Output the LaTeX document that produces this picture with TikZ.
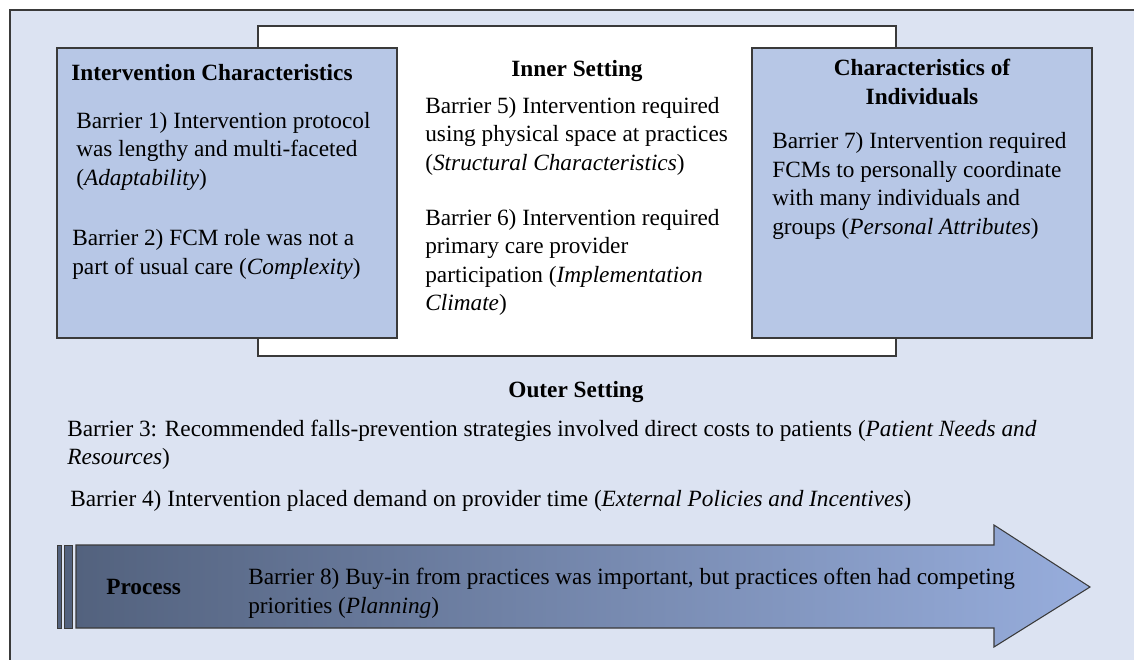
\documentclass[tikz,border=0pt]{standalone}
\usepackage{fontspec}
\setmainfont{Liberation Serif}
\usepackage{tikz}
\usetikzlibrary{calc}
\definecolor{hinter}{HTML}{DCE3F2}
\definecolor{kasten}{HTML}{B7C7E6}
\definecolor{rand}{HTML}{3A3A3A}
\definecolor{pdunkel}{HTML}{53627E}
\definecolor{phell}{HTML}{97ADDC}
\tikzset{
  rahmen/.style={draw=rand,line width=0.6pt},
  feld/.style={rahmen,fill=kasten},
  kopf/.style={inner sep=0pt,font=\fontsize{13.25}{16.2}\selectfont\bfseries},
  txt/.style={inner sep=0pt,anchor=west,align=left,font=\fontsize{13.25}{16.2}\selectfont},
}

\begin{document}
\begin{tikzpicture}[x=0.02cm,y=-0.02cm]
  \useasboundingbox (0,0) rectangle (1134,660);
  \clip (0,0) rectangle (1134,660);
  % outer setting
  \draw[rahmen,fill=hinter] (10,10) rectangle (1150,680);
  % inner setting
  \draw[rahmen,fill=white] (258,26) rectangle (896,356);
  \draw[feld] (57,48) rectangle (397,338);
  \draw[feld] (752,48) rectangle (1092,338);

  \node[kopf,anchor=west] (ichead) at (71,73) {Intervention Characteristics};
  \node[txt] (b1) at (76,151) {Barrier 1) Intervention protocol\\was lengthy and multi-faceted\\(\textit{Adaptability})};
  \node[txt] (b2) at (72,254.5) {Barrier 2) FCM role was not a\\part of usual care (\textit{Complexity})};

  \node[kopf] (ishead) at (577,71) {Inner Setting};
  \node[txt] (b5) at (425,136) {Barrier 5) Intervention required\\using physical space at practices\\(\textit{Structural Characteristics})};
  \node[txt] (b6) at (425,262.5) {Barrier 6) Intervention required\\primary care provider\\participation (\textit{Implementation}\\\textit{Climate})};

  \node[kopf,align=center] (cihead) at (922,82) {Characteristics of\\Individuals};
  \node[txt] (b7) at (772,186) {Barrier 7) Intervention required\\FCMs to personally coordinate\\with many individuals and\\groups (\textit{Personal Attributes})};

  \node[kopf] (oshead) at (576,392) {Outer Setting};
  \node[txt] (b3) at (67,445) {Barrier 3: Recommended falls-prevention strategies involved direct costs to patients (\textit{Patient Needs and}\\\textit{Resources})};
  \node[txt] (b4) at (70,501) {Barrier 4) Intervention placed demand on provider time (\textit{External Policies and Incentives})};

  % process arrow
  \draw[rahmen,line width=0.5pt,fill=pdunkel] (57,545) rectangle (61.5,628);
  \draw[rahmen,line width=0.5pt,fill=pdunkel] (64.5,545) rectangle (72.5,628);
  \shade[left color=pdunkel,right color=phell]
    (76,545) -- (994,545) -- (994,525) -- (1090,587) -- (994,647) -- (994,628) -- (76,628) -- cycle;
  \draw[rahmen]
    (76,545) -- (994,545) -- (994,525) -- (1090,587) -- (994,647) -- (994,628) -- (76,628) -- cycle;
  \node[kopf,anchor=west] (prhead) at (106,587) {Process};
  \node[txt] (b8) at (248,593.5) {Barrier 8) Buy-in from practices was important, but practices often had competing\\priorities (\textit{Planning})};
\end{tikzpicture}
\end{document}
